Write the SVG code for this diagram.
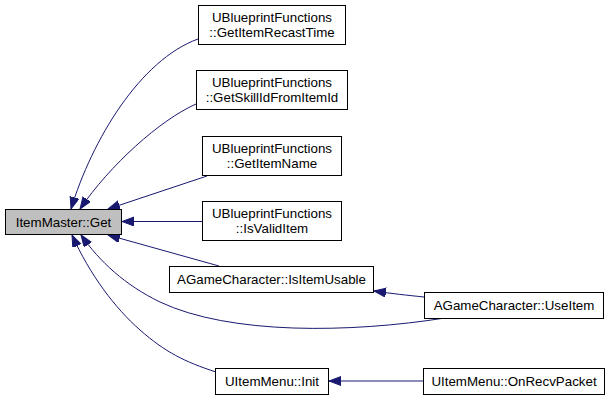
<svg xmlns="http://www.w3.org/2000/svg" width="611" height="401" viewBox="0 0 611 401">
<style>
.box{fill:#ffffff;stroke:#000000;stroke-width:1}
.cur{fill:#bfbfbf;stroke:#000000;stroke-width:1}
.lbl{font-family:"Liberation Sans",Arial,sans-serif;font-size:13.33px;fill:#000000;text-anchor:middle}
.edge{fill:none;stroke:#191970;stroke-width:1;marker-end:url(#ah)}
</style>
<defs>
<marker id="ah" markerUnits="userSpaceOnUse" markerWidth="13" markerHeight="10" refX="12" refY="4.5" orient="auto">
<path d="M0,0 L12,4.5 L0,9 z" fill="#191970" stroke="#191970" stroke-width="1"/>
</marker>
</defs>
<rect width="611" height="401" fill="#ffffff"/>
<g id="edges">
<path class="edge" d="M198,39 C140,60 92,140 71,209"/>
<path class="edge" d="M196,104 C160,120 110,165 80,209"/>
<path class="edge" d="M207,176 L108,209"/>
<path class="edge" d="M202,221.5 L122,221.5"/>
<path class="edge" d="M219,266 L108,235"/>
<path class="edge" d="M445,318 C350,333 230,335 160,302 C125,285 100,262 81,235"/>
<path class="edge" d="M216,372 C185,362 165,352 140,330 C115,308 90,275 72,235"/>
<path class="edge" d="M424,297 C405,295 395,294 374,291"/>
<path class="edge" d="M423,381 L329,381"/>
</g>
<g id="node-get">
<rect class="cur" x="5.5" y="209.5" width="116" height="25"/>
<text class="lbl" x="63.5" y="226.5">ItemMaster::Get</text>
</g>
<g id="node-recast">
<rect class="box" x="198.5" y="5.5" width="147" height="39"/>
<text class="lbl" x="272" y="22">UBlueprintFunctions</text>
<text class="lbl" x="272" y="37">::GetItemRecastTime</text>
</g>
<g id="node-skillid">
<rect class="box" x="196.5" y="70.5" width="151" height="39"/>
<text class="lbl" x="272" y="87">UBlueprintFunctions</text>
<text class="lbl" x="272" y="102">::GetSkillIdFromItemId</text>
</g>
<g id="node-itemname">
<rect class="box" x="202.5" y="136.5" width="139" height="39"/>
<text class="lbl" x="272" y="153">UBlueprintFunctions</text>
<text class="lbl" x="272" y="168">::GetItemName</text>
</g>
<g id="node-isvalid">
<rect class="box" x="202.5" y="201.5" width="139" height="39"/>
<text class="lbl" x="272" y="218">UBlueprintFunctions</text>
<text class="lbl" x="272" y="233">::IsValidItem</text>
</g>
<g id="node-isusable">
<rect class="box" x="169.5" y="266.5" width="204" height="26"/>
<text class="lbl" x="271.5" y="284">AGameCharacter::IsItemUsable</text>
</g>
<g id="node-useitem">
<rect class="box" x="424.5" y="292.5" width="179" height="26"/>
<text class="lbl" x="514" y="310">AGameCharacter::UseItem</text>
</g>
<g id="node-init">
<rect class="box" x="215.5" y="368.5" width="113" height="26"/>
<text class="lbl" x="272" y="386">UItemMenu::Init</text>
</g>
<g id="node-onrecv">
<rect class="box" x="423.5" y="368.5" width="181" height="26"/>
<text class="lbl" x="514" y="386">UItemMenu::OnRecvPacket</text>
</g>
</svg>
